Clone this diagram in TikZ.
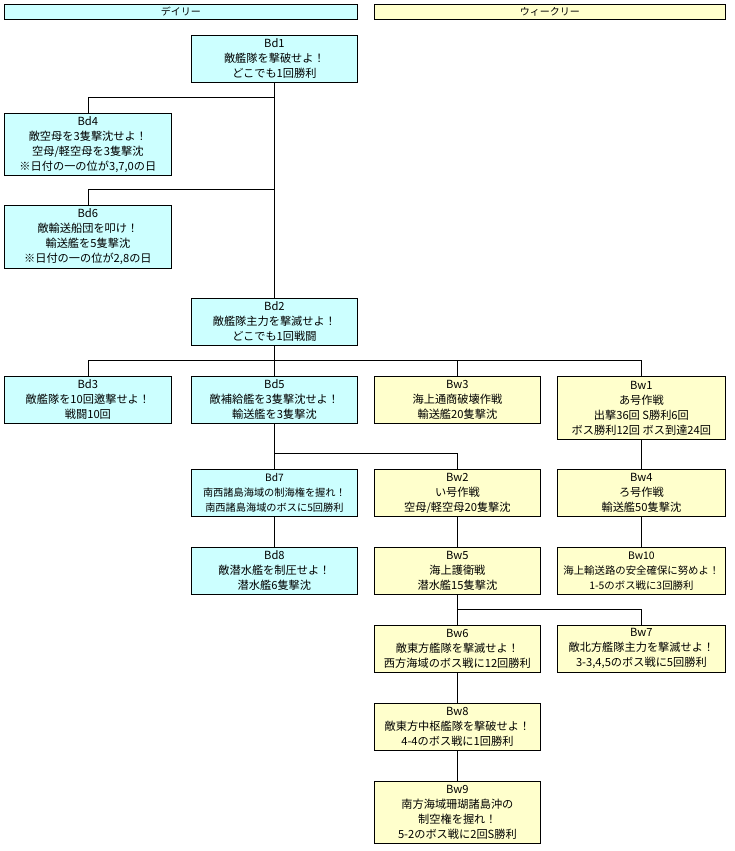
\documentclass[tikz,border=0pt]{standalone}
\usepackage{fontspec}
\newfontfamily\jp{Noto Sans CJK JP}
\definecolor{dailyfill}{HTML}{CCFFFF}
\definecolor{weeklyfill}{HTML}{FFFFCC}
\begin{document}
\begin{tikzpicture}[x=1pt,y=1pt,
  base/.style={draw=black, line width=0.8pt, anchor=north west, inner sep=0pt, align=center,
    font=\jp\fontsize{11.2}{15}\selectfont, minimum height=47pt},
  daily/.style={base, fill=dailyfill},
  weekly/.style={base, fill=weeklyfill},
  hdr/.style={draw=black, line width=0.8pt, anchor=north west, inner sep=0pt, align=center,
    font=\jp\fontsize{10}{10}\selectfont, minimum height=15pt},
  conn/.style={draw=black, line width=0.8pt}]
\useasboundingbox (0,0) rectangle (734,-851);
\fill[white] (0,0) rectangle (734,-851);
% headers
\node[hdr, fill=dailyfill, minimum width=353pt] (hd) at (4,-4) {デイリー};
\node[hdr, fill=weeklyfill, minimum width=351pt] (hw) at (374,-4) {ウィークリー};
% daily
\node[daily, minimum width=166pt] (bd1) at (191,-35) {Bd1\\敵艦隊を撃破せよ！\\どこでも1回勝利};
\node[daily, minimum width=167pt, minimum height=62pt] (bd4) at (4,-113) {Bd4\\敵空母を3隻撃沈せよ！\\空母/軽空母を3隻撃沈\\※日付の一の位が3,7,0の日};
\node[daily, minimum width=167pt, minimum height=63pt] (bd6) at (4,-205) {Bd6\\敵輸送船団を叩け！\\輸送艦を5隻撃沈\\※日付の一の位が2,8の日};
\node[daily, minimum width=166pt] (bd2) at (191,-298) {Bd2\\敵艦隊主力を撃滅せよ！\\どこでも1回戦闘};
\node[daily, minimum width=167pt] (bd3) at (4,-376) {Bd3\\敵艦隊を10回邀撃せよ！\\戦闘10回};
\node[daily, minimum width=166pt] (bd5) at (191,-376) {Bd5\\敵補給艦を3隻撃沈せよ！\\輸送艦を3隻撃沈};
\node[daily, minimum width=166pt, font=\jp\fontsize{10.2}{15}\selectfont] (bd7) at (191,-469) {Bd7\\南西諸島海域の制海権を握れ！\\南西諸島海域のボスに5回勝利};
\node[daily, minimum width=166pt] (bd8) at (191,-547) {Bd8\\敵潜水艦を制圧せよ！\\潜水艦6隻撃沈};
% weekly
\node[weekly, minimum width=166pt] (bw3) at (374,-376) {Bw3\\海上通商破壊作戦\\輸送艦20隻撃沈};
\node[weekly, minimum width=168pt, minimum height=63pt] (bw1) at (557,-376) {Bw1\\あ号作戦\\出撃36回 S勝利6回\\ボス勝利12回 ボス到達24回};
\node[weekly, minimum width=166pt] (bw2) at (374,-469) {Bw2\\い号作戦\\空母/軽空母20隻撃沈};
\node[weekly, minimum width=168pt] (bw4) at (557,-469) {Bw4\\ろ号作戦\\輸送艦50隻撃沈};
\node[weekly, minimum width=166pt] (bw5) at (374,-547) {Bw5\\海上護衛戦\\潜水艦15隻撃沈};
\node[weekly, minimum width=168pt, font=\jp\fontsize{10.4}{15}\selectfont] (bw10) at (557,-547) {Bw10\\海上輸送路の安全確保に努めよ！\\1-5のボス戦に3回勝利};
\node[weekly, minimum width=166pt] (bw6) at (374,-625) {Bw6\\敵東方艦隊を撃滅せよ！\\西方海域のボス戦に12回勝利};
\node[weekly, minimum width=168pt] (bw7) at (557,-625) {Bw7\\敵北方艦隊主力を撃滅せよ！\\3-3,4,5のボス戦に5回勝利};
\node[weekly, minimum width=166pt] (bw8) at (374,-703) {Bw8\\敵東方中枢艦隊を撃破せよ！\\4-4のボス戦に1回勝利};
\node[weekly, minimum width=166pt, minimum height=62pt] (bw9) at (374,-781) {Bw9\\南方海域珊瑚諸島沖の\\制空権を握れ！\\5-2のボス戦に2回S勝利};
% junctions (on the trunks)
\coordinate (j1) at (bd1.south |- 0,-97);
\coordinate (j2) at (bd1.south |- 0,-189);
\coordinate (j3) at (bd2.south |- 0,-360);
\coordinate (j4) at (bd5.south |- 0,-453);
\coordinate (j5) at (bw5.south |- 0,-609);
% connectors
\draw[conn] (bd1.south) -- (bd2.north);
\draw[conn] (bd4.north) |- (j1);
\draw[conn] (bd6.north) |- (j2);
\draw[conn] (bd2.south) -- (j3);
\draw[conn] (bd3.north) |- (bw1.north |- j3) -- (bw1.north);
\draw[conn] (bd5.north) -- (bd5.north |- j3);
\draw[conn] (bw3.north) -- (bw3.north |- j3);
\draw[conn] (bd5.south) -- (j4);
\draw[conn] (bd7.north) -- (j4) -| (bw2.north);
\draw[conn] (bd7.south) -- (bd8.north);
\draw[conn] (bw1.south) -- (bw4.north);
\draw[conn] (bw4.south) -- (bw10.north);
\draw[conn] (bw2.south) -- (bw5.north);
\draw[conn] (bw5.south) -- (j5);
\draw[conn] (bw6.north) -- (j5) -| (bw7.north);
\draw[conn] (bw6.south) -- (bw8.north);
\draw[conn] (bw8.south) -- (bw9.north);
\end{tikzpicture}
\end{document}
